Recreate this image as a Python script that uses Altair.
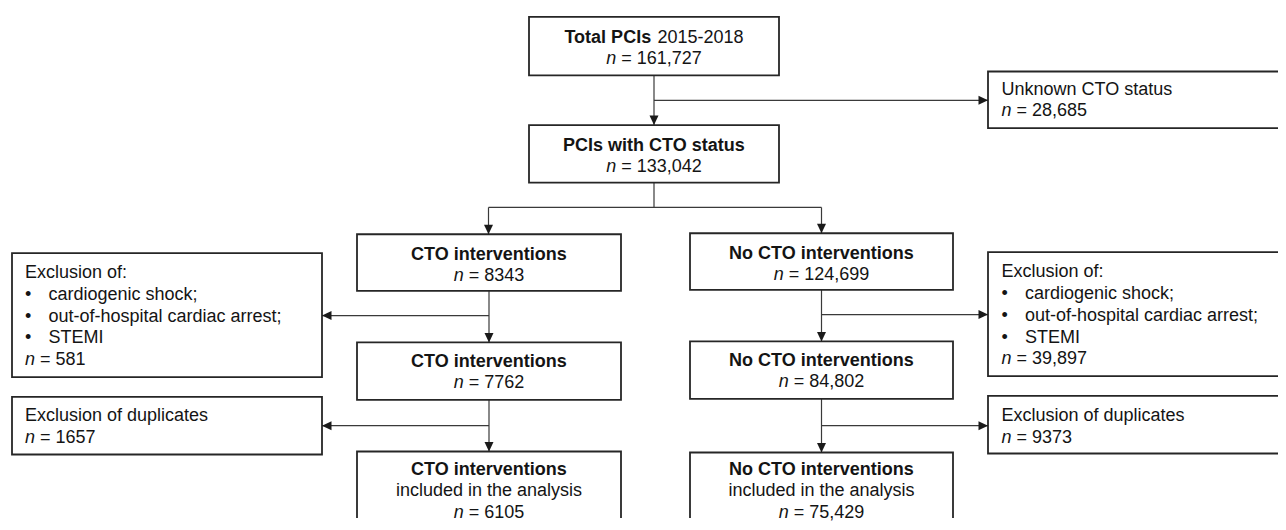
import altair as alt
import pandas as pd

# ------------------------------------------------------------------
# Content (counts and labels)
# ------------------------------------------------------------------
n_total = "161,727"
n_unknown = "28,685"
n_status = "133,042"
n_cto = ["8343", "7762", "6105"]
n_nocto = ["124,699", "84,802", "75,429"]
n_excl = ["581", "39,897"]
n_dup = ["1657", "9373"]
excl_items = ["cardiogenic shock;", "out-of-hospital cardiac arrest;", "STEMI"]

# ------------------------------------------------------------------
# Layout (screen pixel space of the 1286x530 figure)
# node: (x0, x1, y0, y1, alignment, text-origin x, lines, baselines)
# ------------------------------------------------------------------
def N(v):
    return [("n", "i"), (" = " + v, "r")]

def B(t):
    return [("•", "r"), ("\t" + t, "r")]

nodes = [
    (529, 779, 17, 76, "c", 654, [[("Total PCIs", "b"), (" 2015-2018", "r")], N(n_total)], [43, 64]),
    (529, 779, 126, 184, "c", 654, [[("PCIs with CTO status", "b")], N(n_status)], [152, 173]),
    (988, 1300, 72, 129, "l", 1001.5, [[("Unknown CTO status", "r")], N(n_unknown)], [96, 117]),
    (357, 621, 236, 293, "c", 489, [[("CTO interventions", "b")], N(n_cto[0])], [262, 283]),
    (690, 953, 235, 292, "c", 821.5, [[("No CTO interventions", "b")], N(n_nocto[0])], [261, 282]),
    (12, 322, 255, 380, "l", 25, [[("Exclusion of:", "r")]] + [B(t) for t in excl_items] + [N(n_excl[0])],
     [280, 302, 324, 346, 367.5]),
    (988, 1300, 254, 379, "l", 1001.5, [[("Exclusion of:", "r")]] + [B(t) for t in excl_items] + [N(n_excl[1])],
     [279.5, 301.5, 323.5, 345.5, 367]),
    (357, 621, 345, 403, "c", 489, [[("CTO interventions", "b")], N(n_cto[1])], [369.5, 391]),
    (690, 953, 344, 402, "c", 821.5, [[("No CTO interventions", "b")], N(n_nocto[1])], [368.5, 390]),
    (12, 322, 400, 458, "l", 25, [[("Exclusion of duplicates", "r")], N(n_dup[0])], [424, 446]),
    (988, 1300, 399, 457, "l", 1001.5, [[("Exclusion of duplicates", "r")], N(n_dup[1])], [424, 446]),
    (357, 621, 455, 560, "c", 489, [[("CTO interventions", "b")], [("included in the analysis", "r")], N(n_cto[2])],
     [478.5, 500, 521.5]),
    (690, 953, 456, 560, "c", 821.5, [[("No CTO interventions", "b")], [("included in the analysis", "r")], N(n_nocto[2])],
     [478.5, 500, 521.5]),
]

# connectors: (x, y, x2, y2, arrow)
links = [
    (654, 76, 654, 126, "down"),
    (654, 101, 988, 101, "right"),
    (654, 184, 654, 209, None),
    (488.5, 209, 821.5, 209, None),
    (488.5, 209, 488.5, 236, "down"),
    (821.5, 209, 821.5, 235, "down"),
    (489, 293, 489, 345, "down"),
    (489, 318, 322, 318, "left"),
    (821.5, 292, 821.5, 344, "down"),
    (821.5, 317, 988, 317, "right"),
    (489, 403, 489, 455, "down"),
    (489, 429, 322, 429, "left"),
    (821.5, 402, 821.5, 456, "down"),
    (821.5, 429, 988, 429, "right"),
]

# ------------------------------------------------------------------
# Arial / Liberation Sans advance widths (1/1000 em)
# ------------------------------------------------------------------
UP = "ABCDEFGHIJKLMNOPQRSTUVWXYZ"
LO = "abcdefghijklmnopqrstuvwxyz"
REG = {" ": 278, ",": 278, "-": 333, ".": 278, ":": 278, ";": 278, "=": 584, "•": 350}
BOLD = {" ": 278, ",": 278, "-": 333, ".": 278, ":": 333, ";": 333, "=": 584, "•": 350}
for d in "0123456789":
    REG[d] = 556
    BOLD[d] = 556
REG.update(dict(zip(UP, [667, 667, 722, 722, 667, 611, 778, 722, 278, 500, 667, 556, 833, 722, 778, 667, 778, 722, 667, 611, 722, 667, 944, 667, 667, 611])))
REG.update(dict(zip(LO, [556, 556, 500, 556, 556, 278, 556, 556, 222, 222, 500, 222, 833, 556, 556, 556, 556, 333, 500, 278, 556, 500, 722, 500, 500, 500])))
BOLD.update(dict(zip(UP, [722, 722, 722, 722, 667, 611, 778, 722, 278, 556, 722, 611, 833, 722, 778, 667, 778, 722, 667, 611, 722, 667, 944, 667, 667, 611])))
BOLD.update(dict(zip(LO, [556, 611, 556, 611, 556, 333, 611, 611, 278, 278, 556, 278, 889, 611, 611, 611, 611, 389, 556, 333, 611, 556, 778, 556, 556, 500])))

FS = 18
BULLET_GAP = 23.5


def width(t, st):
    tbl = BOLD if st == "b" else REG
    return sum(tbl.get(ch, 556) for ch in t) * FS / 1000.0


# build tables
rects = pd.DataFrame([{"x0": n[0], "x1": n[1], "y0": n[2], "y1": n[3]} for n in nodes])

txt_rows = []
for x0, x1, y0, y1, al, ox, lines, bls in nodes:
    for segs, bl in zip(lines, bls):
        total = sum(width(t.lstrip("\t"), s) for t, s in segs)
        cx = ox - total / 2 if al == "c" else ox
        for t, s in segs:
            if t.startswith("\t"):
                t = t[1:]
                cx = ox + BULLET_GAP
            # leading whitespace is collapsed by SVG: advance the origin instead
            stripped = t.lstrip(" ")
            cx += width(t[: len(t) - len(stripped)], s)
            txt_rows.append({"x": cx, "y": bl, "t": stripped, "s": s})
            cx += width(stripped, s)
txt = pd.DataFrame(txt_rows)

lines_df = pd.DataFrame([{"x": a, "y": b, "x2": c, "y2": d} for a, b, c, d, _ in links])
heads = pd.DataFrame([{"x": c, "y": d, "dir": e} for a, b, c, d, e in links if e])

xs = alt.Scale(domain=[8, 1278], nice=False, zero=False)
ys = alt.Scale(domain=[8, 522], nice=False, zero=False, reverse=True)

box_layer = alt.Chart(rects).mark_rect(
    fill="white", stroke="#262626", strokeWidth=1.8, clip=True
).encode(
    x=alt.X("x0:Q", scale=xs, axis=None),
    x2="x1:Q",
    y=alt.Y("y0:Q", scale=ys, axis=None),
    y2="y1:Q",
)

rule_layer = alt.Chart(lines_df).mark_rule(color="#3a3a3a", strokeWidth=1.2).encode(
    x=alt.X("x:Q", scale=xs, axis=None),
    x2="x2:Q",
    y=alt.Y("y:Q", scale=ys, axis=None),
    y2="y2:Q",
)

head_layer = alt.Chart(heads).mark_point(
    filled=True, opacity=1, color="#1a1a1a", size=100, strokeWidth=0
).encode(
    x=alt.X("x:Q", scale=xs, axis=None),
    y=alt.Y("y:Q", scale=ys, axis=None),
    shape=alt.Shape(
        "dir:N",
        scale=alt.Scale(
            domain=["down", "left", "right"],
            range=["M0,0L-0.9,-1.9L0.9,-1.9Z", "M0,0L1.9,-0.9L1.9,0.9Z", "M0,0L-1.9,-0.9L-1.9,0.9Z"],
        ),
        legend=None,
    ),
)


def text_layer(style, weight, fstyle):
    return alt.Chart(txt[txt["s"] == style]).mark_text(
        align="left", baseline="alphabetic", font="Liberation Sans", fontSize=FS,
        fontWeight=weight, fontStyle=fstyle, color="#141414",
    ).encode(
        x=alt.X("x:Q", scale=xs, axis=None),
        y=alt.Y("y:Q", scale=ys, axis=None),
        text="t:N",
    )


chart = alt.layer(
    rule_layer,
    box_layer,
    head_layer,
    text_layer("r", "normal", "normal"),
    text_layer("b", "bold", "normal"),
    text_layer("i", "normal", "italic"),
).properties(
    width=1270,
    height=514,
    padding=0,
    autosize=alt.AutoSizeParams(type="fit", contains="padding"),
    background="white",
).configure_view(stroke=None)

chart.save("out.html", embed_options={"renderer": "svg", "actions": False})
